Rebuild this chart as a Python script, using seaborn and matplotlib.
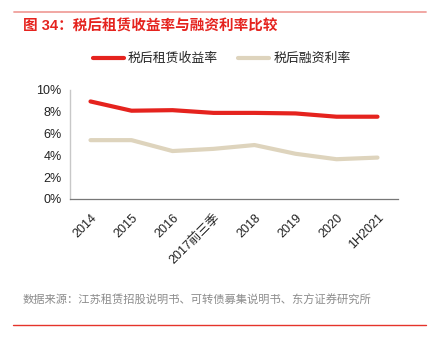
import matplotlib
matplotlib.use("Agg")
import matplotlib.pyplot as plt
import seaborn as sns
import pandas as pd
from matplotlib.lines import Line2D

categories = ["2014", "2015", "2016", "2017前三季", "2018", "2019", "2020", "1H2021"]
lease_yield = [8.95, 8.1, 8.15, 7.9, 7.9, 7.85, 7.55, 7.55]
funding_rate = [5.4, 5.4, 4.4, 4.6, 4.95, 4.15, 3.65, 3.8]
series_names = ["税后租赁收益率", "税后融资利率"]
yticks = [0, 2, 4, 6, 8, 10]
ytick_labels = ["0%", "2%", "4%", "6%", "8%", "10%"]

sns.set_style("white")
FAM = ["Liberation Sans", "Noto Sans CJK SC", "DejaVu Sans"]
plt.rcParams["font.family"] = FAM

df = pd.DataFrame({
    "cat": categories * 2,
    "x": list(range(len(categories))) * 2,
    "value": lease_yield + funding_rate,
    "series": [series_names[0]] * len(categories) + [series_names[1]] * len(categories),
})

RED = "#E5231E"
BEIGE = "#DED4BD"

fig = plt.figure(figsize=(4.31, 3.39), dpi=100)
ax = fig.add_axes([70 / 431, 1 - 199 / 339, (398 - 70) / 431, (199 - 90) / 339])

sns.lineplot(data=df, x="x", y="value", hue="series", palette=[RED, BEIGE],
             linewidth=3.0, ax=ax, legend=False)

ax.set_xlim(-0.5, len(categories) - 0.5)
ax.set_ylim(0, 10)
ax.set_yticks(yticks)
ax.set_yticklabels(ytick_labels, fontsize=9, color="#222222")
ax.set_xticks([i - 0.5 for i in range(len(categories) + 1)])
ax.set_xticklabels([])
ax.set_xticks(range(len(categories)), minor=True)
ax.set_xticklabels(categories, minor=True, rotation=45, ha="right", va="top",
                   rotation_mode="anchor", fontsize=9, color="#222222")
ax.tick_params(axis="x", which="minor", length=0, pad=9)
ax.tick_params(axis="x", which="major", length=4, width=0.8, color="#777777", direction="out")
ax.tick_params(axis="y", length=3, width=0.8, color="#BBBBBB", direction="out", pad=3)
ax.set_xlabel("")
ax.set_ylabel("")
for s in ["top", "right"]:
    ax.spines[s].set_visible(False)
ax.spines["left"].set_color("#C8C8C8")
ax.spines["left"].set_linewidth(1.0)
ax.spines["bottom"].set_color("#777777")
ax.spines["bottom"].set_linewidth(0.9)

handles = [Line2D([0], [0], color=RED, lw=3), Line2D([0], [0], color=BEIGE, lw=3)]
fig.legend(handles, series_names, loc="center", bbox_to_anchor=(0.514, 1 - 59 / 339),
           ncol=2, frameon=False, handlelength=2.4, handletextpad=0.3,
           columnspacing=1.6, prop={"family": FAM, "size": 9.3})

fig.text(23 / 431, 1 - 26 / 339, "图 34：税后租赁收益率与融资利率比较", color="#E5231E",
         fontsize=10.5, fontweight="bold", va="center", ha="left", family=FAM)
fig.text(23 / 431, 1 - 300 / 339, "数据来源：江苏租赁招股说明书、可转债募集说明书、东方证券研究所",
         color="#8C8C8C", fontsize=8.1, va="center", ha="left", family=FAM)

fig.add_artist(Line2D([14 / 431, 426 / 431], [1 - 12 / 339, 1 - 12 / 339],
                      color="#F0A09C", lw=1.3, transform=fig.transFigure))
fig.add_artist(Line2D([13 / 431, 426 / 431], [1 - 325 / 339, 1 - 325 / 339],
                      color="#E5332A", lw=1.0, transform=fig.transFigure))

fig.savefig("out.png", dpi=100)
